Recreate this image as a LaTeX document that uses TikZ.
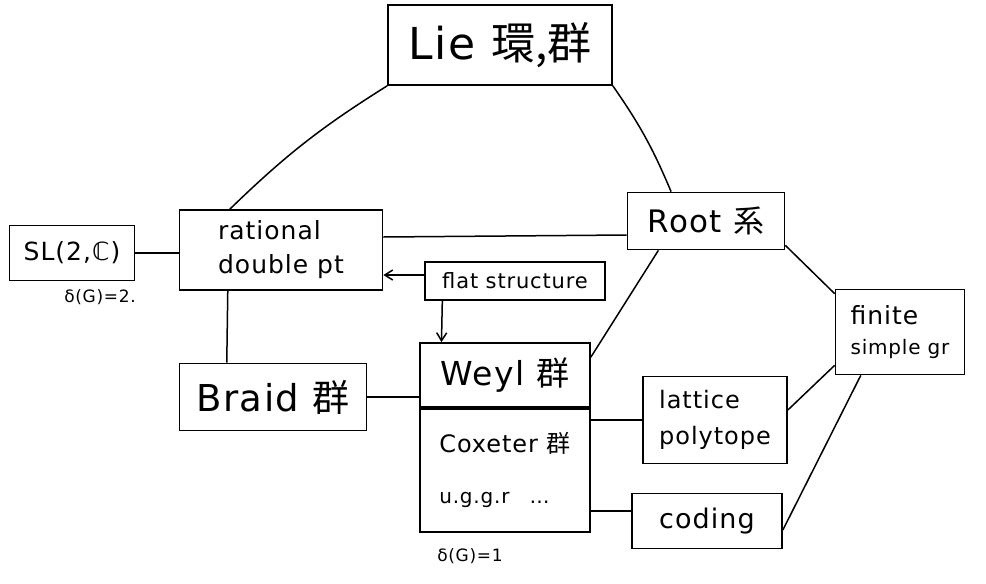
\documentclass[tikz,border=0pt]{standalone}
\usepackage{fontspec}
\setmainfont{DejaVu Sans}[LetterSpace=4]
\newfontfamily\cjk{Noto Sans CJK JP}
\usetikzlibrary{arrows.meta,calc}
\begin{document}
\begin{tikzpicture}[x=1pt,y=-1pt,
  box/.style={draw,line width=1.7pt,rectangle,inner sep=2pt},
  conn/.style={line width=1.5pt},
  arr/.style={line width=1.5pt,-{Straight Barb[length=8pt,width=10pt]}},
  lbl/.style={inner sep=1pt}]
\useasboundingbox (0,0) rectangle (986,584);
% boxes
\node[box,minimum width=224pt,minimum height=80pt,font=\fontsize{44}{48}\selectfont] (lie) at (500,45) {Lie {\cjk 環,群}};
\node[box,minimum width=157pt,minimum height=57pt,font=\fontsize{31}{34}\selectfont] (root) at (706,221) {Root {\cjk 系}};
\node[box,minimum width=125pt,minimum height=55pt,font=\fontsize{25}{28}\selectfont] (sl) at (72,253) {SL(2,ℂ)};
\node[lbl,font=\fontsize{17}{20}\selectfont] (d2) at (100,297) {δ(G)=2.};
\node[box,minimum width=203pt,minimum height=80pt,align=left,font=\fontsize{25}{34}\selectfont] (rat) at (281,250) {rational\\double pt};
\node[box,minimum width=180pt,minimum height=38pt,font=\fontsize{21}{24}\selectfont] (flat) at (515,281) {flat structure};
\node[box,minimum width=129pt,minimum height=85pt,align=left,font=\fontsize{25}{30}\selectfont] (fin) at (900,332) {finite\\{\fontsize{20}{23}\selectfont simple gr}};
\node[box,minimum width=187pt,minimum height=67pt,font=\fontsize{37}{40}\selectfont] (braid) at (273,397) {Braid {\cjk 群}};
\node[box,minimum width=170pt,minimum height=64pt,font=\fontsize{33}{36}\selectfont] (weyl) at (505,375) {Weyl {\cjk 群}};
\node[box,minimum width=170pt,minimum height=123pt,align=left,anchor=north,font=\fontsize{24}{27}\selectfont] (cox) at (weyl.south) {Coxeter {\cjk 群}\\[24pt]{\fontsize{20}{23}\selectfont u.g.g.r\quad …}};
\node[box,minimum width=144pt,minimum height=87pt,align=left,font=\fontsize{24}{36}\selectfont] (lat) at (715,420) {lattice\\polytope};
\node[box,minimum width=150pt,minimum height=55pt,font=\fontsize{27}{30}\selectfont] (cod) at (707,521) {coding};
\node[lbl,font=\fontsize{17}{20}\selectfont] (d1) at (470,556) {δ(G)=1};
% connectors
\draw[conn] (lie.south west) to[bend right=6] ($(rat.north west)!0.5!(rat.north)$);
\draw[conn] (lie.south east) to[bend left=6] ($(root.north west)!0.28!(root.north east)$);
\draw[conn] (sl.east) -- (sl.east -| rat.west);
\draw[conn] ([yshift=13pt]rat.east) -- ([yshift=-14pt]root.west);
\draw[arr] ([yshift=6pt]flat.west) -- ([yshift=-25pt]rat.east);
\draw[arr] ($(flat.south west)!0.1!(flat.south east)$) -- ($(weyl.north west)!0.13!(weyl.north east)$);
\draw[conn] ($(rat.south west)!0.24!(rat.south east)$) -- ($(braid.north west)!0.255!(braid.north east)$);
\draw[conn] (braid.east) -- (braid.east -| weyl.west);
\draw[conn] ($(root.south west)!0.2!(root.south east)$) -- ([yshift=-15pt]weyl.north east);
\draw[conn] ([yshift=5pt]root.south east) -- ([yshift=-5pt]fin.north west);
\draw[conn] ([yshift=10pt]fin.south west) -- ([yshift=10pt]lat.east);
\draw[conn] ($(fin.south west)!0.2!(fin.south east)$) -- ([yshift=-9pt]cod.east);
\draw[conn] (lat.west -| cox.east) -- (lat.west);
\draw[conn] ([yshift=10pt]cod.west -| cox.east) -- ([yshift=10pt]cod.west);
\draw[conn] ($(lat.south west)!0.33!(lat.south east)$) -- ($(lat.south west)!0.33!(lat.south east)$ |- cod.north);
\end{tikzpicture}
\end{document}
